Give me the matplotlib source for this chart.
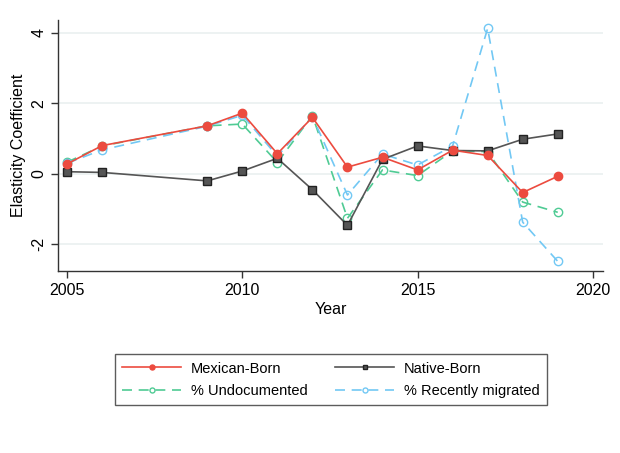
import matplotlib
matplotlib.use('Agg')
import matplotlib.pyplot as plt

plt.rcParams['font.family'] = ['Liberation Sans', 'DejaVu Sans']

years = [2005, 2006, 2009, 2010, 2011, 2012, 2013, 2014, 2015, 2016, 2017, 2018, 2019]
mexican = [0.28, 0.80, 1.36, 1.72, 0.57, 1.60, 0.19, 0.47, 0.11, 0.67, 0.52, -0.53, -0.07]
native = [0.06, 0.04, -0.20, 0.08, 0.44, -0.45, -1.46, 0.41, 0.79, 0.66, 0.65, 0.98, 1.13]
undoc = [0.33, 0.79, 1.36, 1.41, 0.32, 1.65, -1.26, 0.11, -0.05, 0.65, 0.63, -0.80, -1.09]
recent = [0.30, 0.68, 1.35, 1.66, 0.50, 1.62, -0.60, 0.56, 0.25, 0.79, 4.12, -1.37, -2.48]

red = '#ec4b3f'
gray = '#555555'
green = '#4fcb94'
blue = '#72c8f4'

fig = plt.figure(figsize=(6.2, 4.53), dpi=100)
ax = fig.add_axes([0.0935, 0.402, 0.879, 0.554])

l1, = ax.plot(years, mexican, color=red, lw=1.2, marker='o', ms=6, mfc=red, mec=red,
              label='Mexican-Born', zorder=4)
l2, = ax.plot(years, native, color=gray, lw=1.2, marker='s', ms=5.5, mfc='#555555', mec='#222222',
              label='Native-Born', zorder=3)
l3, = ax.plot(years, undoc, color=green, lw=1.2, ls=(0, (6, 4)), marker='o', ms=6, mfc='none',
              mec=green, label='% Undocumented', zorder=2)
l4, = ax.plot(years, recent, color=blue, lw=1.2, ls=(0, (6, 4)), marker='o', ms=6, mfc='none',
              mec=blue, label='% Recently migrated', zorder=2)

ax.set_xlim(2004.74, 2020.29)
ax.set_ylim(-2.75, 4.36)
ax.set_xticks([2005, 2010, 2015, 2020])
ax.set_yticks([-2, 0, 2, 4])
ax.set_yticklabels(['-2', '0', '2', '4'], rotation=90, va='center')
ax.grid(axis='y', color='#eaf0f0', lw=1.2)
ax.set_axisbelow(True)
for s in ['top', 'right']:
    ax.spines[s].set_visible(False)
for s in ['left', 'bottom']:
    ax.spines[s].set_color('#333333')
    ax.spines[s].set_linewidth(1.0)
ax.tick_params(colors='#333333', labelcolor='black', labelsize=11.5, length=5, width=1)
ax.set_xlabel('Year', fontsize=11.5, labelpad=3)
ax.set_ylabel('Elasticity Coefficient', fontsize=11.5, labelpad=4)

# row-wise order: matplotlib fills legend columns first
handles = [l1, l3, l2, l4]
leg = fig.legend(handles, [h.get_label() for h in handles], ncol=2, loc='center',
                 bbox_to_anchor=(0.534, 0.162),
                 fontsize=10.5, frameon=True, fancybox=False, edgecolor='#333333',
                 handlelength=4.0, markerscale=0.6, columnspacing=1.9, handletextpad=0.7,
                 labelspacing=0.55, borderpad=0.5, borderaxespad=0)
leg.get_frame().set_linewidth(1.0)

fig.savefig('out.png', dpi=100, facecolor='white')
